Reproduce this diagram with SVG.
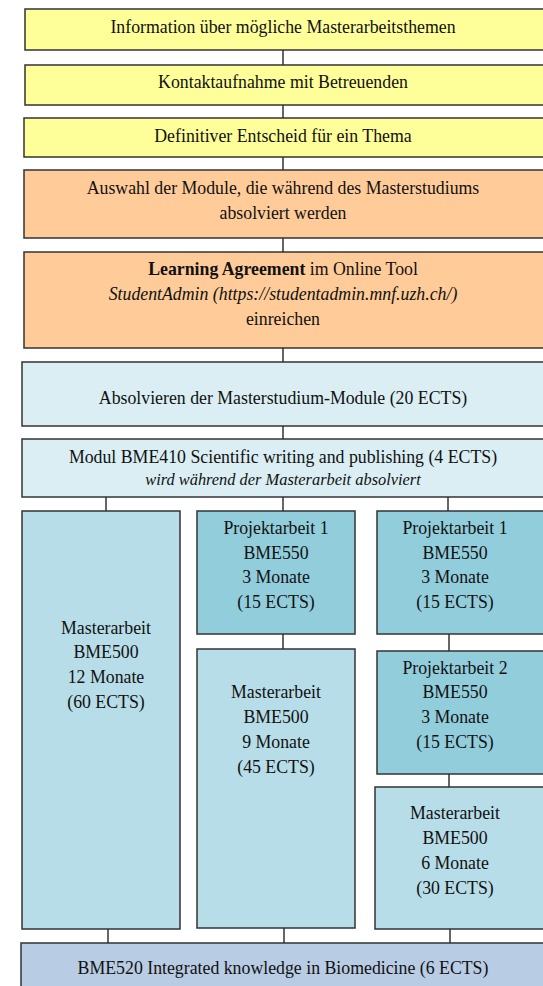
<svg xmlns="http://www.w3.org/2000/svg" width="543" height="986" viewBox="0 0 543 986">
  <style>
    .box { stroke: #333333; stroke-width: 1.5; }
    .yellow { fill: #FFFF99; }
    .peach { fill: #FFCC99; }
    .pale { fill: #DAEEF3; }
    .light { fill: #B7DDE8; }
    .teal { fill: #92CDDC; }
    .steel { fill: #B8CCE4; }
    .link { stroke: #333333; stroke-width: 1.5; fill: none; }
    text { font-family: "Liberation Serif", "Times New Roman", serif; font-size: 17.8px; fill: #111111; text-anchor: middle; }
    .small { font-size: 16.4px; font-style: italic; }
    .it { font-style: italic; }
    .b { font-weight: bold; }
  </style>

  <g id="connectors">
    <line class="link" x1="283" y1="50" x2="283" y2="65"/>
    <line class="link" x1="283" y1="105" x2="283" y2="118"/>
    <line class="link" x1="283" y1="157" x2="283" y2="170"/>
    <line class="link" x1="283" y1="238" x2="283" y2="252"/>
    <line class="link" x1="283" y1="348" x2="283" y2="362"/>
    <line class="link" x1="283" y1="426" x2="283" y2="439"/>
    <line class="link" x1="106" y1="497" x2="106" y2="511"/>
    <line class="link" x1="283" y1="497" x2="283" y2="511"/>
    <line class="link" x1="448" y1="497" x2="448" y2="511"/>
    <line class="link" x1="283" y1="634" x2="283" y2="649"/>
    <line class="link" x1="449" y1="634" x2="449" y2="651"/>
    <line class="link" x1="449" y1="774" x2="449" y2="787"/>
    <line class="link" x1="108" y1="929" x2="108" y2="943"/>
    <line class="link" x1="284" y1="928" x2="284" y2="943"/>
    <line class="link" x1="450" y1="929" x2="450" y2="943"/>
  </g>

  <g id="info">
    <rect class="box yellow" x="25" y="9" width="522" height="41"/>
    <text x="283" y="33">Information über mögliche Masterarbeitsthemen</text>
  </g>
  <g id="kontakt">
    <rect class="box yellow" x="25" y="65" width="522" height="40"/>
    <text x="283" y="88">Kontaktaufnahme mit Betreuenden</text>
  </g>
  <g id="entscheid">
    <rect class="box yellow" x="24" y="118" width="523" height="39"/>
    <text x="283" y="142">Definitiver Entscheid für ein Thema</text>
  </g>
  <g id="auswahl">
    <rect class="box peach" x="24" y="170" width="523" height="68"/>
    <text x="283" y="194">Auswahl der Module, die während des Masterstudiums</text>
    <text x="283" y="219">absolviert werden</text>
  </g>
  <g id="agreement">
    <rect class="box peach" x="24" y="252" width="523" height="96"/>
    <text x="283" y="275"><tspan class="b">Learning Agreement</tspan> im Online Tool</text>
    <text class="it" x="283" y="300">StudentAdmin (https://studentadmin.mnf.uzh.ch/)</text>
    <text x="283" y="325">einreichen</text>
  </g>
  <g id="module">
    <rect class="box pale" x="22" y="362" width="525" height="64"/>
    <text x="283" y="404">Absolvieren der Masterstudium-Module (20 ECTS)</text>
  </g>
  <g id="bme410">
    <rect class="box pale" x="22" y="439" width="525" height="58"/>
    <text x="283" y="463">Modul BME410 Scientific writing and publishing (4 ECTS)</text>
    <text class="small" x="283" y="485">wird während der Masterarbeit absolviert</text>
  </g>

  <g id="master12">
    <rect class="box light" x="22" y="511" width="158" height="418"/>
    <text x="106" y="634">Masterarbeit</text>
    <text x="106" y="658">BME500</text>
    <text x="106" y="683">12 Monate</text>
    <text x="106" y="708">(60 ECTS)</text>
  </g>

  <g id="projekt1a">
    <rect class="box teal" x="197" y="511" width="158" height="123"/>
    <text x="276" y="534">Projektarbeit 1</text>
    <text x="276" y="559">BME550</text>
    <text x="276" y="583">3 Monate</text>
    <text x="276" y="608">(15 ECTS)</text>
  </g>
  <g id="master9">
    <rect class="box light" x="197" y="649" width="158" height="279"/>
    <text x="276" y="698">Masterarbeit</text>
    <text x="276" y="723">BME500</text>
    <text x="276" y="748">9 Monate</text>
    <text x="276" y="773">(45 ECTS)</text>
  </g>

  <g id="projekt1b">
    <rect class="box teal" x="377" y="511" width="170" height="123"/>
    <text x="455" y="534">Projektarbeit 1</text>
    <text x="455" y="559">BME550</text>
    <text x="455" y="583">3 Monate</text>
    <text x="455" y="608">(15 ECTS)</text>
  </g>
  <g id="projekt2">
    <rect class="box teal" x="377" y="651" width="170" height="123"/>
    <text x="455" y="674">Projektarbeit 2</text>
    <text x="455" y="698">BME550</text>
    <text x="455" y="723">3 Monate</text>
    <text x="455" y="748">(15 ECTS)</text>
  </g>
  <g id="master6">
    <rect class="box light" x="375" y="787" width="172" height="142"/>
    <text x="455" y="819">Masterarbeit</text>
    <text x="455" y="844">BME500</text>
    <text x="455" y="869">6 Monate</text>
    <text x="455" y="894">(30 ECTS)</text>
  </g>

  <g id="bme520">
    <rect class="box steel" x="21" y="943" width="526" height="50"/>
    <text x="283" y="974">BME520 Integrated knowledge in Biomedicine (6 ECTS)</text>
  </g>
</svg>
